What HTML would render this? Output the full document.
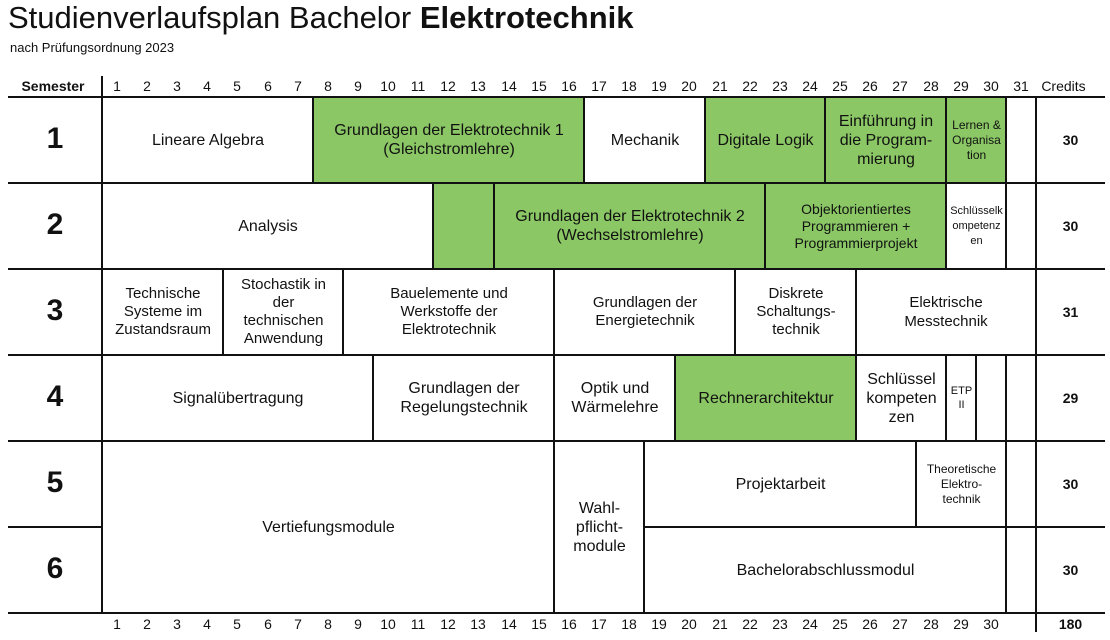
<!DOCTYPE html>
<html><head><meta charset="utf-8"><style>
body{margin:0;width:1110px;height:640px;background:#fff;position:relative;overflow:hidden;font-family:"Liberation Sans",sans-serif;color:#111}
.c{position:absolute;box-sizing:border-box;border:2px solid #111;display:flex;align-items:center;justify-content:center;text-align:center;font-size:16px;line-height:19px;background:#fff}
.g{background:#8bc865}
.hl{position:absolute;height:2px;background:#111;left:8px;width:1097px}
.vl{position:absolute;width:2px;background:#111}
.n{position:absolute;font-size:14px;width:30px;text-align:center}
.s{position:absolute;left:8px;width:94px;text-align:center;font-size:30px;font-weight:bold}
.cr{position:absolute;left:1036px;width:69px;text-align:center;font-size:14px;font-weight:bold}
</style></head><body>
<div style="position:absolute;left:8px;top:0px;font-size:31px">Studienverlaufsplan Bachelor <b>Elektrotechnik</b></div>
<div style="position:absolute;left:10px;top:40px;font-size:13px">nach Prüfungsordnung 2023</div>
<div style="position:absolute;left:10px;top:78px;font-size:14px;font-weight:bold;width:86px;text-align:center">Semester</div>
<div style="position:absolute;left:1036px;top:78px;font-size:14px;width:55px;text-align:center">Credits</div>
<div class="hl" style="top:96px"></div><div class="hl" style="top:182px"></div><div class="hl" style="top:268px"></div><div class="hl" style="top:354px"></div><div class="hl" style="top:440px"></div><div class="hl" style="top:526px"></div><div class="hl" style="top:612px"></div>
<div class="vl" style="left:101px;top:76px;height:538px"></div>
<div class="vl" style="left:1035px;top:96px;height:536px"></div>
<div class="s" style="top:122px">1</div><div class="s" style="top:208px">2</div><div class="s" style="top:294px">3</div><div class="s" style="top:380px">4</div><div class="s" style="top:466px">5</div><div class="s" style="top:552px">6</div>
<div class="cr" style="top:132px">30</div><div class="cr" style="top:218px">30</div><div class="cr" style="top:304px">31</div><div class="cr" style="top:390px">29</div><div class="cr" style="top:476px">30</div><div class="cr" style="top:562px">30</div><div class="cr" style="top:616px">180</div>

<div class="c" style="left:101px;top:96px;width:214px;height:88px">Lineare Algebra</div>
<div class="c g" style="left:312px;top:96px;width:274px;height:88px">Grundlagen der Elektrotechnik 1<br>(Gleichstromlehre)</div>
<div class="c" style="left:583px;top:96px;width:124px;height:88px">Mechanik</div>
<div class="c g" style="left:704px;top:96px;width:123px;height:88px">Digitale Logik</div>
<div class="c g" style="left:824px;top:96px;width:124px;height:88px">Einführung in<br>die Program-<br>mierung</div>
<div class="c g" style="left:945px;top:96px;width:63px;height:88px;font-size:12px;line-height:15px">Lernen &amp;<br>Organisa<br>tion</div>
<div class="c" style="left:1005px;top:96px;width:32px;height:88px"></div>
<div class="c" style="left:101px;top:182px;width:334px;height:88px">Analysis</div>
<div class="c g" style="left:432px;top:182px;width:64px;height:88px"></div>
<div class="c g" style="left:493px;top:182px;width:274px;height:88px">Grundlagen der Elektrotechnik 2<br>(Wechselstromlehre)</div>
<div class="c g" style="left:764px;top:182px;width:184px;height:88px;font-size:14px;line-height:17px">Objektorientiertes<br>Programmieren +<br>Programmierprojekt</div>
<div class="c" style="left:945px;top:182px;width:63px;height:88px;font-size:11px;line-height:15px">Schlüsselk<br>ompetenz<br>en</div>
<div class="c" style="left:1005px;top:182px;width:32px;height:88px"></div>
<div class="c" style="left:101px;top:268px;width:124px;height:88px;font-size:15px;line-height:18px">Technische<br>Systeme im<br>Zustandsraum</div>
<div class="c" style="left:222px;top:268px;width:123px;height:88px;font-size:15px;line-height:18px">Stochastik in<br>der<br>technischen<br>Anwendung</div>
<div class="c" style="left:342px;top:268px;width:214px;height:88px;font-size:15px;line-height:18px">Bauelemente und<br>Werkstoffe der<br>Elektrotechnik</div>
<div class="c" style="left:553px;top:268px;width:184px;height:88px;font-size:15px;line-height:18px">Grundlagen der<br>Energietechnik</div>
<div class="c" style="left:734px;top:268px;width:124px;height:88px;font-size:15px;line-height:18px">Diskrete<br>Schaltungs-<br>technik</div>
<div class="c" style="left:855px;top:268px;width:182px;height:88px;font-size:15px;line-height:19px">Elektrische<br>Messtechnik</div>
<div class="c" style="left:101px;top:354px;width:274px;height:88px">Signalübertragung</div>
<div class="c" style="left:372px;top:354px;width:184px;height:88px">Grundlagen der<br>Regelungstechnik</div>
<div class="c" style="left:553px;top:354px;width:124px;height:88px">Optik und<br>Wärmelehre</div>
<div class="c g" style="left:674px;top:354px;width:184px;height:88px">Rechnerarchitektur</div>
<div class="c" style="left:855px;top:354px;width:93px;height:88px">Schlüssel<br>kompeten<br>zen</div>
<div class="c" style="left:945px;top:354px;width:33px;height:88px;font-size:11px;line-height:14px">ETP<br>II</div>
<div class="c" style="left:975px;top:354px;width:33px;height:88px"></div>
<div class="c" style="left:1005px;top:354px;width:32px;height:88px"></div>
<div class="c" style="left:101px;top:440px;width:455px;height:174px">Vertiefungsmodule</div>
<div class="c" style="left:553px;top:440px;width:93px;height:174px">Wahl-<br>pflicht-<br>module</div>
<div class="c" style="left:643px;top:440px;width:275px;height:88px">Projektarbeit</div>
<div class="c" style="left:915px;top:440px;width:93px;height:88px;font-size:12px;line-height:15px">Theoretische<br>Elektro-<br>technik</div>
<div class="c" style="left:1005px;top:440px;width:32px;height:88px"></div>
<div class="c" style="left:643px;top:526px;width:365px;height:88px">Bachelorabschlussmodul</div>
<div class="c" style="left:1005px;top:526px;width:32px;height:88px"></div>

<div class="n" style="left:102px;top:78px">1</div><div class="n" style="left:132px;top:78px">2</div><div class="n" style="left:162px;top:78px">3</div><div class="n" style="left:192px;top:78px">4</div><div class="n" style="left:222px;top:78px">5</div><div class="n" style="left:253px;top:78px">6</div><div class="n" style="left:283px;top:78px">7</div><div class="n" style="left:313px;top:78px">8</div><div class="n" style="left:343px;top:78px">9</div><div class="n" style="left:373px;top:78px">10</div><div class="n" style="left:403px;top:78px">11</div><div class="n" style="left:433px;top:78px">12</div><div class="n" style="left:463px;top:78px">13</div><div class="n" style="left:494px;top:78px">14</div><div class="n" style="left:524px;top:78px">15</div><div class="n" style="left:554px;top:78px">16</div><div class="n" style="left:584px;top:78px">17</div><div class="n" style="left:614px;top:78px">18</div><div class="n" style="left:644px;top:78px">19</div><div class="n" style="left:674px;top:78px">20</div><div class="n" style="left:705px;top:78px">21</div><div class="n" style="left:735px;top:78px">22</div><div class="n" style="left:765px;top:78px">23</div><div class="n" style="left:795px;top:78px">24</div><div class="n" style="left:825px;top:78px">25</div><div class="n" style="left:855px;top:78px">26</div><div class="n" style="left:885px;top:78px">27</div><div class="n" style="left:916px;top:78px">28</div><div class="n" style="left:946px;top:78px">29</div><div class="n" style="left:976px;top:78px">30</div><div class="n" style="left:1006px;top:78px">31</div>
<div class="n" style="left:102px;top:616px">1</div><div class="n" style="left:132px;top:616px">2</div><div class="n" style="left:162px;top:616px">3</div><div class="n" style="left:192px;top:616px">4</div><div class="n" style="left:222px;top:616px">5</div><div class="n" style="left:253px;top:616px">6</div><div class="n" style="left:283px;top:616px">7</div><div class="n" style="left:313px;top:616px">8</div><div class="n" style="left:343px;top:616px">9</div><div class="n" style="left:373px;top:616px">10</div><div class="n" style="left:403px;top:616px">11</div><div class="n" style="left:433px;top:616px">12</div><div class="n" style="left:463px;top:616px">13</div><div class="n" style="left:494px;top:616px">14</div><div class="n" style="left:524px;top:616px">15</div><div class="n" style="left:554px;top:616px">16</div><div class="n" style="left:584px;top:616px">17</div><div class="n" style="left:614px;top:616px">18</div><div class="n" style="left:644px;top:616px">19</div><div class="n" style="left:674px;top:616px">20</div><div class="n" style="left:705px;top:616px">21</div><div class="n" style="left:735px;top:616px">22</div><div class="n" style="left:765px;top:616px">23</div><div class="n" style="left:795px;top:616px">24</div><div class="n" style="left:825px;top:616px">25</div><div class="n" style="left:855px;top:616px">26</div><div class="n" style="left:885px;top:616px">27</div><div class="n" style="left:916px;top:616px">28</div><div class="n" style="left:946px;top:616px">29</div><div class="n" style="left:976px;top:616px">30</div>
</body></html>
